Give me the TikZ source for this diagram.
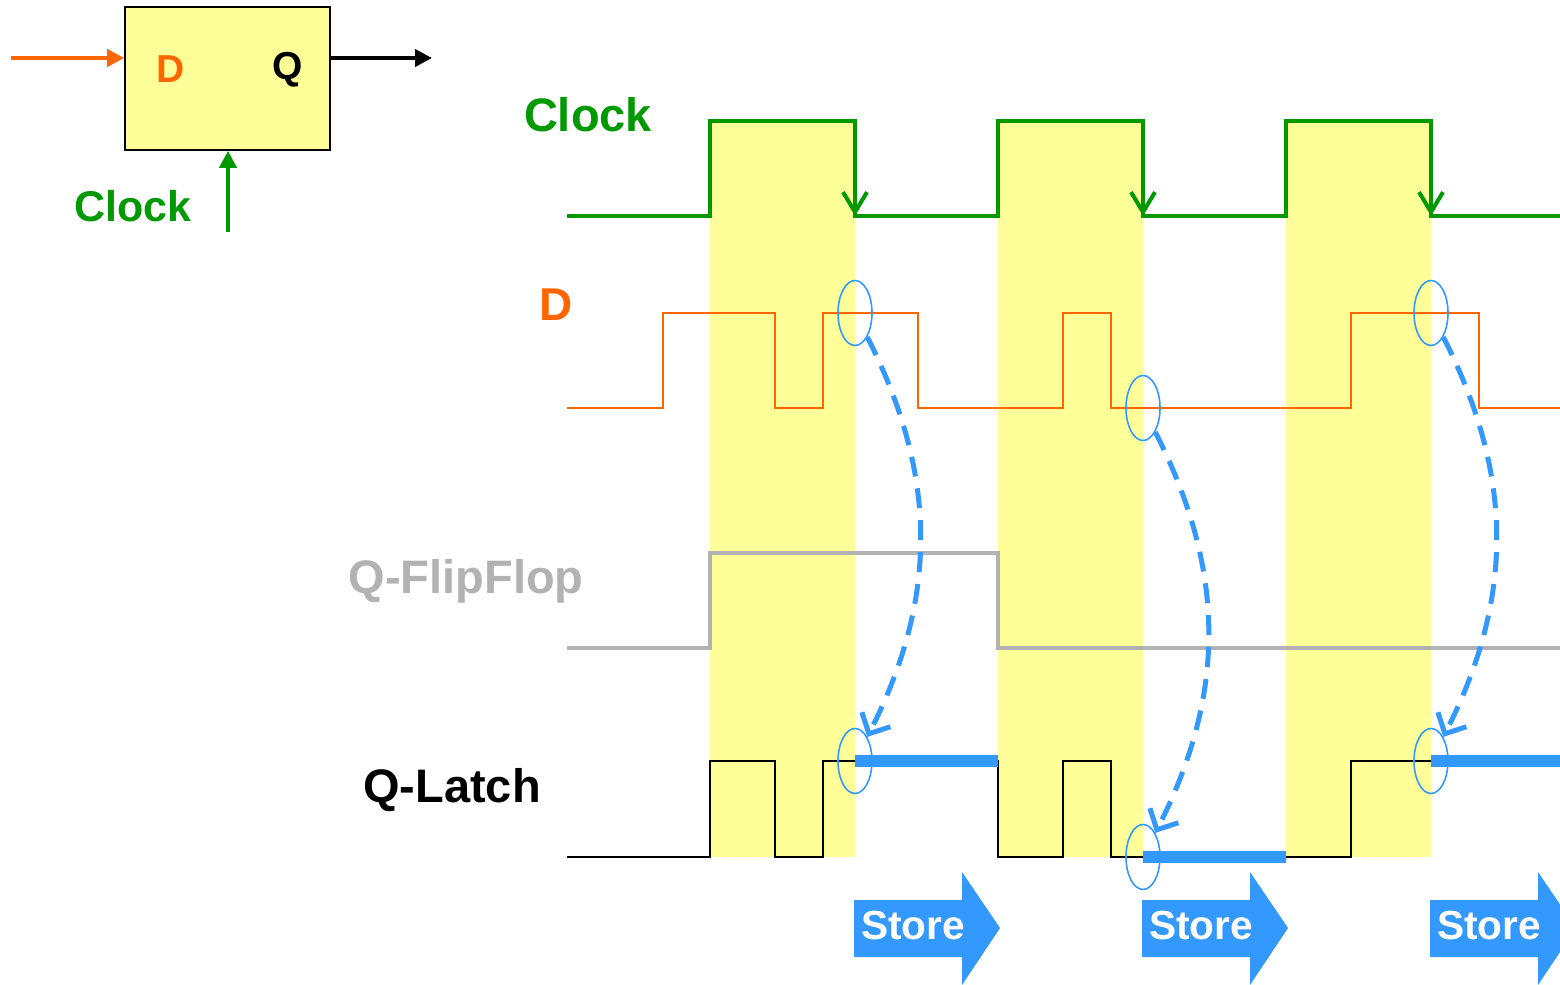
\documentclass[tikz,border=0pt]{standalone}
\usepackage{fontspec}
\setmainfont{Liberation Sans}
\usetikzlibrary{arrows.meta,shapes.geometric}

\definecolor{clkgreen}{RGB}{0,153,0}
\definecolor{dorange}{RGB}{255,102,0}
\definecolor{ffgray}{RGB}{178,178,178}
\definecolor{storeblue}{RGB}{51,153,255}
\definecolor{bandyellow}{RGB}{255,255,153}

\begin{document}
\begin{tikzpicture}[x=0.5pt,y=-0.5pt,
  lbl/.style={font=\bfseries\fontsize{23.5}{28}\selectfont, anchor=base, inner sep=0pt},
  pin/.style={font=\bfseries\fontsize{19.5}{23}\selectfont, anchor=base, inner sep=0pt},
  feed/.style={line width=2pt, -{Triangle[length=8.5pt,width=8.5pt]}},
  clk/.style={clkgreen, line width=2pt, line join=miter},
  fall/.style={clkgreen, line width=2pt, -{Straight Barb[length=10pt,width=12pt]}},
  dwave/.style={dorange, line width=1pt},
  ffwave/.style={ffgray, line width=2pt},
  latch/.style={black, line width=1pt},
  held/.style={storeblue, line width=6pt},
  spot/.style={draw=storeblue, ellipse, line width=0.8pt, minimum width=17pt, minimum height=32.5pt, inner sep=0pt},
  sample/.style={storeblue, line width=2.5pt, dash pattern=on 10pt off 6pt,
    -{Straight Barb[length=8pt,width=16pt]}},
  storetxt/.style={font=\bfseries\fontsize{20.3}{24}\selectfont, text=white, anchor=base, inner sep=0pt}]
  \useasboundingbox (0,0) rectangle (1560,985);

  % flip-flop block
  \node[draw, fill=bandyellow, line width=0.8pt, minimum width=102.5pt, minimum height=71.5pt, inner sep=0pt] (ff) at (227.5,78.5) {};
  \node[pin, text=dorange] (dpin) at (171,83) {D};
  \node[pin] (qpin) at (288,79) {Q};
  \coordinate (din) at (11,58);
  \coordinate (qout) at (432,58);
  \coordinate (clkin) at (228,232);
  \draw[feed, dorange] (din) -- (din -| ff.west);
  \draw[feed, black] (qout -| ff.east) -- (qout);
  \draw[feed, clkgreen] (clkin) -- (clkin |- ff.south);
  \node[lbl, text=clkgreen, font=\bfseries\fontsize{21.5}{26}\selectfont] (clkpin) at (133,221) {Clock};

  % transparent phases
  \foreach \x in {710,998,1286}
    \fill[bandyellow] (\x,121) rectangle (\x+145,857);

  % clock
  \draw[clk] (567,216) -- (710,216) -- (710,121) -- (855,121) -- (855,216)
    -- (998,216) -- (998,121) -- (1143,121) -- (1143,216)
    -- (1286,216) -- (1286,121) -- (1431,121) -- (1431,216) -- (1560,216);
  \foreach \x in {855,1143,1431}
    \draw[fall] (\x,180) -- (\x,216);

  % D input
  \draw[dwave] (567,408) -- (663,408) -- (663,313) -- (775,313) -- (775,408)
    -- (823,408) -- (823,313) -- (918,313) -- (918,408) -- (1063,408)
    -- (1063,313) -- (1111,313) -- (1111,408) -- (1351,408) -- (1351,313)
    -- (1479,313) -- (1479,408) -- (1560,408);

  % flip-flop output
  \draw[ffwave] (567,648) -- (710,648) -- (710,553) -- (998,553) -- (998,648) -- (1560,648);

  % latch output
  \draw[latch] (567,857) -- (710,857) -- (710,761) -- (775,761) -- (775,857)
    -- (823,857) -- (823,761) -- (998,761) -- (998,857) -- (1063,857)
    -- (1063,761) -- (1111,761) -- (1111,857) -- (1351,857) -- (1351,761) -- (1560,761);
  \draw[held] (855,761) -- (998,761);
  \draw[held] (1143,857) -- (1286,857);
  \draw[held] (1431,761) -- (1560,761);

  % sampled values
  \node[spot] (d1) at (855,313) {};
  \node[spot] (d2) at (1143,408) {};
  \node[spot] (d3) at (1431,313) {};
  \node[spot] (q1) at (855,761) {};
  \node[spot] (q2) at (1143,857) {};
  \node[spot] (q3) at (1431,761) {};
  \foreach \i in {1,2,3}
    \draw[sample] (d\i) to[bend left=27] (q\i);

  % signal names
  \node[lbl, text=clkgreen] (clk) at (588,131) {Clock};
  \node[lbl, text=dorange, font=\bfseries\fontsize{23}{28}\selectfont] (dsig) at (556,320) {D};
  \node[lbl, text=ffgray] (qff) at (466,593) {Q-FlipFlop};
  \node[lbl] (qlatch) at (452,802) {Q-Latch};

  % store arrows
  \foreach \x in {854,1142,1430} {
    \fill[storeblue] (\x,900) -- ++(108,0) -- ++(0,-28) -- ++(38,56) -- ++(-38,57)
      -- ++(0,-28) -- ++(-108,0) -- cycle;
    \node[storetxt] (store\x) at (\x+59,939) {Store};
  }
\end{tikzpicture}
\end{document}
